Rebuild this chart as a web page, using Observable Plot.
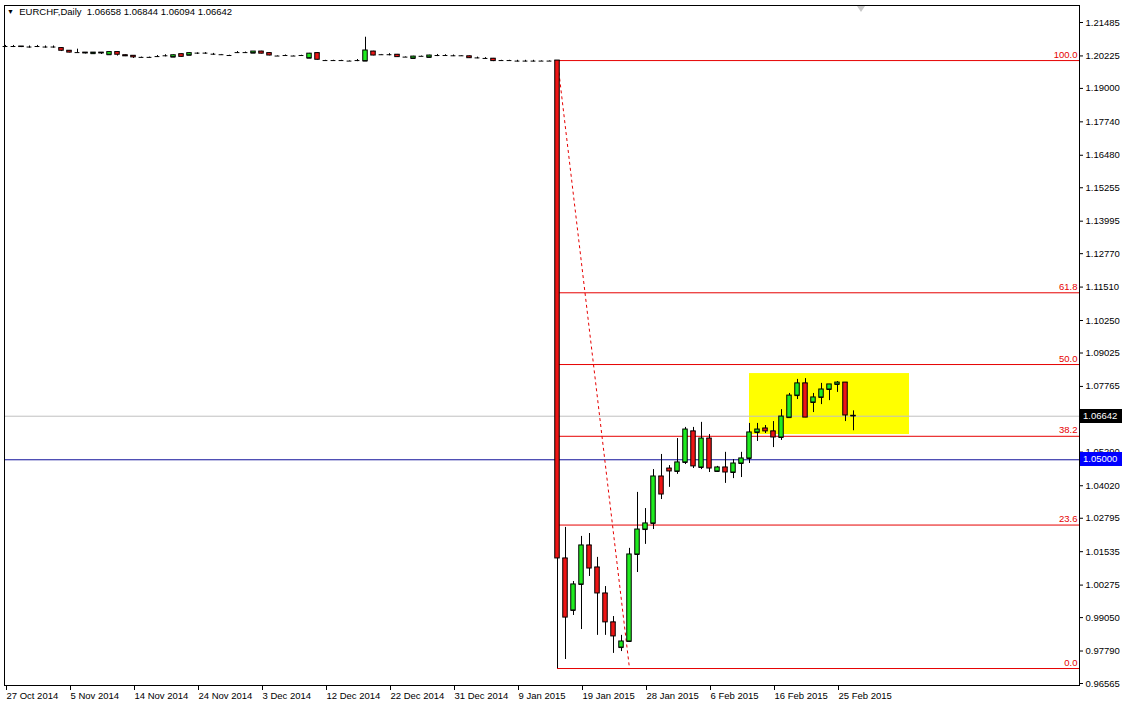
<!DOCTYPE html>
<html>
<head>
<meta charset="utf-8">
<script src="https://cdn.jsdelivr.net/npm/d3@7"></script>
<script src="https://cdn.jsdelivr.net/npm/@observablehq/plot@0.6"></script>
<style>
html, body { margin: 0; padding: 0; background: #fff; }
#chart { position: relative; width: 1123px; height: 706px; overflow: hidden; font-family: 'Liberation Sans', Arial, sans-serif; }
.ov { position: absolute; white-space: nowrap; font-size: 9.5px; line-height: 14px; }
</style>
</head>
<body>
<div id="chart"></div>
<script>
// ---------- data ----------
const symbolLabel = "EURCHF,Daily";
const lastOHLC = ["1.06658", "1.06844", "1.06094", "1.06642"];

const open = [
  1.2058,1.2058,1.2058,1.2056,1.2058,1.2056,1.2056,1.2052,1.2042,1.2035,
  1.2035,1.2031,1.2035,1.2027,1.2037,1.2025,1.2023,1.2017,1.2017,1.2020,
  1.2023,1.2018,1.2029,1.2025,1.2033,1.2033,1.2029,1.2027,1.2024,1.2035,
  1.2035,1.2033,1.2039,1.2033,1.2022,1.2024,1.2022,1.2024,1.2014,1.2033,
  1.2005,1.2005,1.2005,1.2003,1.2005,1.2003,1.2039,1.2027,1.2027,1.2027,
  1.2018,1.2013,1.2021,1.2017,1.2024,1.2024,1.2023,1.2023,1.2021,1.2015,
  1.2013,1.2012,1.2005,1.2005,1.2003,1.2003,1.2003,1.2003,1.2003,1.2005,
  1.0128,0.9932,1.0030,1.0177,1.0094,0.9996,0.9887,0.9792,0.9815,1.0143,
  1.0237,1.0260,1.0437,1.0467,1.0456,1.0490,1.0607,1.0471,1.0580,1.0456,
  1.0471,1.0452,1.0486,1.0505,1.0603,1.0618,1.0607,1.0584,1.0659,1.0742,
  1.0788,1.0716,1.0735,1.0765,1.0784,1.0791,1.06658
];
const high = [
  1.2062,1.2062,1.2058,1.2060,1.2062,1.2060,1.2060,1.2054,1.2043,1.2048,
  1.2035,1.2035,1.2035,1.2037,1.2037,1.2026,1.2024,1.2018,1.2018,1.2024,
  1.2027,1.2026,1.2030,1.2034,1.2034,1.2035,1.2032,1.2028,1.2025,1.2039,
  1.2037,1.2039,1.2040,1.2034,1.2023,1.2026,1.2023,1.2025,1.2032,1.2034,
  1.2006,1.2006,1.2006,1.2004,1.2009,1.2093,1.2040,1.2028,1.2031,1.2028,
  1.2019,1.2021,1.2022,1.2025,1.2028,1.2027,1.2026,1.2024,1.2022,1.2018,
  1.2016,1.2013,1.2006,1.2006,1.2006,1.2006,1.2006,1.2004,1.2004,1.2005,
  1.0245,1.0041,1.0211,1.0222,1.0132,1.0022,0.9909,0.9838,1.0166,1.0377,
  1.0316,1.0463,1.0520,1.0478,1.0580,1.0622,1.0622,1.0641,1.0595,1.0475,
  1.0528,1.0501,1.0528,1.0637,1.0637,1.0629,1.0644,1.0689,1.0750,1.0803,
  1.0806,1.0750,1.0788,1.0784,1.0795,1.0791,1.06844
];
const low = [
  1.2054,1.2054,1.2054,1.2052,1.2054,1.2052,1.2052,1.2039,1.2034,1.2034,
  1.2030,1.2030,1.2028,1.2027,1.2022,1.2020,1.2013,1.2015,1.2015,1.2017,
  1.2019,1.2017,1.2018,1.2024,1.2028,1.2029,1.2025,1.2026,1.2023,1.2032,
  1.2032,1.2032,1.2030,1.2023,1.2021,1.2022,1.2021,1.2023,1.2013,1.2007,
  1.2004,1.2004,1.2004,1.2002,1.2001,1.2003,1.2023,1.2026,1.2023,1.2017,
  1.2017,1.2012,1.2020,1.2016,1.2020,1.2021,1.2020,1.2022,1.2013,1.2012,
  1.2010,1.2001,1.2004,1.2004,1.2000,1.2000,1.2000,1.2002,1.2002,0.9713,
  0.9747,0.9913,0.9860,1.0060,0.9838,0.9838,0.9770,0.9777,0.9811,1.0075,
  1.0181,1.0237,1.0350,1.0396,1.0445,1.0482,1.0467,1.0463,1.0452,1.0452,
  1.0411,1.0429,1.0433,1.0486,1.0569,1.0599,1.0546,1.0573,1.0659,1.0727,
  1.0659,1.0678,1.0708,1.0723,1.0754,1.0644,1.06094
];
const close = [
  1.2058,1.2058,1.2056,1.2056,1.2058,1.2056,1.2056,1.2042,1.2035,1.2035,
  1.2032,1.2035,1.2032,1.2037,1.2027,1.2021,1.2017,1.2017,1.2017,1.2020,
  1.2023,1.2025,1.2019,1.2033,1.2033,1.2033,1.2029,1.2027,1.2024,1.2035,
  1.2035,1.2039,1.2031,1.2024,1.2022,1.2024,1.2022,1.2024,1.2031,1.2008,
  1.2005,1.2005,1.2005,1.2003,1.2005,1.2043,1.2024,1.2027,1.2027,1.2018,
  1.2018,1.2020,1.2021,1.2024,1.2024,1.2024,1.2023,1.2023,1.2014,1.2015,
  1.2013,1.2003,1.2005,1.2005,1.2003,1.2003,1.2003,1.2003,1.2003,1.0128,
  0.9905,1.0030,1.0177,1.0090,0.9996,0.9887,0.9834,0.9815,1.0143,1.0237,
  1.0260,1.0437,1.0369,1.0456,1.0490,1.0614,1.0475,1.0580,1.0467,1.0471,
  1.0452,1.0486,1.0505,1.0603,1.0614,1.0607,1.0584,1.0663,1.0742,1.0788,
  1.0659,1.0735,1.0765,1.0784,1.0791,1.0667,1.06642
];

const dateTickBars = [0, 8, 16, 24, 32, 40, 48, 56, 64, 72, 80, 88, 96, 104];
const dateTicks = ["27 Oct 2014", "5 Nov 2014", "14 Nov 2014", "24 Nov 2014", "3 Dec 2014",
  "12 Dec 2014", "22 Dec 2014", "31 Dec 2014", "9 Jan 2015", "19 Jan 2015",
  "28 Jan 2015", "6 Feb 2015", "16 Feb 2015", "25 Feb 2015"];

const priceTicks = [1.21485, 1.20225, 1.19000, 1.17740, 1.16480, 1.15255, 1.13995,
  1.12770, 1.11510, 1.10250, 1.09025, 1.07765, 1.05290, 1.04020, 1.02795,
  1.01535, 1.00275, 0.99050, 0.97790, 0.96565];

const fibLabels = ["100.0", "61.8", "50.0", "38.2", "23.6", "0.0"];
const fibPrices = [1.2005, 1.11295, 1.0859, 1.05885, 1.02539, 0.9713];
const fibStartBar = 69;
const fibEndBar = 78;

const boxBars = [93, 113];
const boxPrices = [1.0825, 1.0595];

const bidPrice = 1.06642;
const alertPrice = 1.05000;

// ---------- build ----------
const xDomain = [-0.125, 134.25];
const yDomain = [0.9649, 1.22126];
const GREEN = "#1fec1f", RED = "#ee1515", FIB = "#e60000";

const candles = open.map((o, i) => ({i, open: o, high: high[i], low: low[i], close: close[i]}));
const bodies = candles.filter(d => d.open !== d.close);
const fib = fibLabels.map((label, k) => ({label, price: fibPrices[k]}));

const plot = Plot.plot({
  width: 1123,
  height: 706,
  marginLeft: 4,
  marginRight: 44,
  marginTop: 5,
  marginBottom: 21,
  style: {fontFamily: "'Liberation Sans', Arial, sans-serif", fontSize: "9.5px", background: "#fff", color: "#000", overflow: "visible"},
  x: {type: "linear", domain: xDomain},
  y: {type: "linear", domain: yDomain},
  marks: [
    Plot.rect([{x1: boxBars[0], x2: boxBars[1], y1: boxPrices[0], y2: boxPrices[1]}],
      {x1: "x1", x2: "x2", y1: "y1", y2: "y2", fill: "#ffff00"}),
    Plot.ruleY([bidPrice], {stroke: "#c0c0c0"}),
    Plot.ruleY([alertPrice], {stroke: "#10109a"}),
    Plot.ruleY(fib, {y: "price", x1: fibStartBar, x2: xDomain[1], stroke: FIB}),
    Plot.link([{x1: fibStartBar, y1: fibPrices[0], x2: fibEndBar, y2: fibPrices[fibPrices.length - 1]}],
      {x1: "x1", y1: "y1", x2: "x2", y2: "y2", stroke: FIB, strokeDasharray: "3,3"}),
    Plot.ruleX(candles, {x: "i", y1: "low", y2: "high", stroke: "#000"}),
    Plot.ruleY(candles, {y: "open", x1: d => d.i - 0.3, x2: d => d.i + 0.3, stroke: "#000"}),
    Plot.rect(bodies, {
      x1: d => d.i - 0.28, x2: d => d.i + 0.28, y1: "open", y2: "close",
      fill: d => d.close > d.open ? GREEN : RED, stroke: "#000"
    }),
    Plot.text(fib, {x: xDomain[1], y: "price", text: "label", textAnchor: "end", dx: -2, dy: -6, fill: FIB}),
    Plot.axisY(priceTicks, {anchor: "right", tickSize: 3, tickPadding: 3, tickFormat: d => d.toFixed(5), label: null}),
    Plot.axisX(dateTickBars, {anchor: "bottom", tickSize: 5, tickPadding: 2, textAnchor: "start", dx: 1,
      tickFormat: d => dateTicks[dateTickBars.indexOf(d)], label: null}),
    Plot.frame({stroke: "#000"})
  ]
});

const chart = document.getElementById("chart");
chart.appendChild(plot);

// overlays positioned through the plot's own scales
const xs = plot.scale("x"), ys = plot.scale("y");
const rightEdge = xs.range[1];

function priceBox(price, bg) {
  const d = document.createElement("div");
  d.className = "ov";
  d.textContent = price.toFixed(5);
  Object.assign(d.style, {
    left: (rightEdge + 1) + "px", top: (ys.apply(price) - 7) + "px",
    width: "39px", height: "14px", paddingLeft: "3px", background: bg, color: "#fff"
  });
  chart.appendChild(d);
}
priceBox(bidPrice, "#000");
priceBox(alertPrice, "#0000ff");

const title = document.createElement("div");
title.className = "ov";
Object.assign(title.style, {left: "7px", top: "5px", color: "#000"});
title.innerHTML = '<span style="font-size:7px;position:relative;top:-1px;">&#9660;</span>&nbsp;&nbsp;' +
  symbolLabel + "&nbsp; " + lastOHLC.join(" ");
chart.appendChild(title);

// chart shift marker (grey triangle) one bar after the last candle
const shift = document.createElement("div");
Object.assign(shift.style, {
  position: "absolute", left: (xs.apply(candles.length) - 4) + "px", top: "6px", width: "0", height: "0",
  borderLeft: "4px solid transparent", borderRight: "4px solid transparent", borderTop: "6px solid #c8c8c8"
});
chart.appendChild(shift);
</script>
</body>
</html>
